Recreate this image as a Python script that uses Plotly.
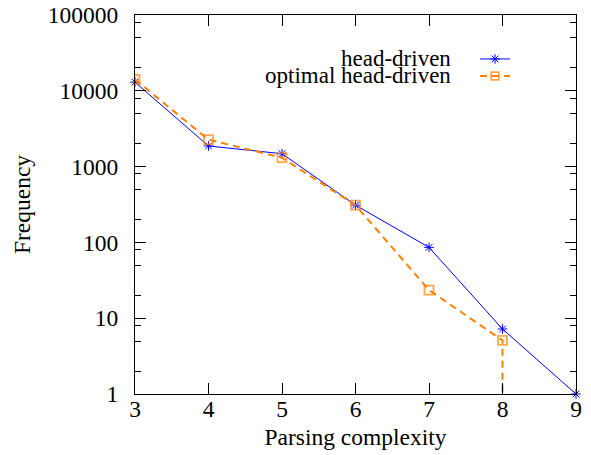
import plotly.graph_objects as go

complexity = [3, 4, 5, 6, 7, 8, 9]
head_driven = [13000, 1870, 1480, 310, 86, 7.2, 1]

opt_complexity = [3, 4, 5, 6, 7, 8]
optimal_head_driven = [14100, 2270, 1310, 310, 23.5, 5.1]

series_names = ["head-driven", "optimal head-driven"]

y_tick_vals = [1, 10, 100, 1000, 10000, 100000]
y_tick_text = ["1", "10", "100", "1000", "10000", "100000"]
x_tick_vals = [3, 4, 5, 6, 7, 8, 9]

minor_vals = [m * 10 ** d for d in range(0, 5) for m in (2, 5, 8)]

BLUE = "#0000ff"
ORANGE = "#ff8000"
FONT = "Liberation Serif"
FS = 23.5

# layout geometry in page pixels (body margin removed below)
L, T, PW, PH = 135, 15, 441, 379
W, H = 591, 455


def px_x(p):
    return (p - L) / PW


def px_y(p):
    return 1 - (p - T) / PH


text_row_y = [58, 75]
key_row_y = [59, 76]

fig = go.Figure()
fig.add_trace(go.Scatter(
    x=complexity, y=head_driven, name="", mode="lines+markers",
    line=dict(color=BLUE, width=1),
    marker=dict(symbol="asterisk-open", size=8, color=BLUE, line=dict(color=BLUE, width=1)),
    cliponaxis=False, legend="legend", hovertext=series_names[0],
))
# optimal series: after x=8 the count drops to zero (below the log axis)
fig.add_trace(go.Scatter(
    x=opt_complexity + [8], y=optimal_head_driven + [0.001], name="",
    mode="lines+markers",
    line=dict(color=ORANGE, width=2, dash="7px,5px"),
    marker=dict(symbol="square-open", size=[9] * 6 + [0], color=ORANGE,
                line=dict(color=ORANGE, width=1.8)),
    cliponaxis=True, legend="legend2", hovertext=series_names[1],
))

leg_common = dict(xanchor="left", yanchor="middle", bgcolor="rgba(0,0,0,0)",
                  font=dict(size=23), itemwidth=30, borderwidth=0)

for i, name in enumerate(series_names):
    fig.add_annotation(
        x=px_x(453), y=px_y(text_row_y[i]), xref="paper", yref="paper",
        xanchor="right", yanchor="middle", text=name, showarrow=False,
        font=dict(family=FONT, size=23, color="black"),
    )

fig.update_layout(
    width=W, height=H,
    margin=dict(l=L, r=W - L - PW, t=T, b=H - T - PH),
    paper_bgcolor="white", plot_bgcolor="white",
    font=dict(family=FONT, size=FS, color="black"),
    showlegend=True,
    legend=dict(x=px_x(475), y=px_y(key_row_y[0]), **leg_common),
    legend2=dict(x=px_x(475), y=px_y(key_row_y[1]), **leg_common),
    xaxis=dict(
        range=[3, 9], tickvals=x_tick_vals, ticks="inside", ticklen=11,
        tickcolor="black", mirror="ticks", showline=True, linecolor="black",
        linewidth=1, showgrid=False, zeroline=False, automargin=False,
        ticklabelstandoff=-6, ticklabeloverflow="allow",
        title=dict(text="Parsing complexity", standoff=7, font=dict(size=FS)),
        tickfont=dict(size=FS),
    ),
    yaxis=dict(
        type="log", range=[0, 5], tickvals=y_tick_vals, ticktext=y_tick_text,
        ticks="inside", ticklen=11, tickcolor="black", mirror="ticks",
        showline=True, linecolor="black", linewidth=1, showgrid=False,
        zeroline=False, automargin=False, ticklabelstandoff=11,
        ticklabeloverflow="allow",
        minor=dict(tickvals=minor_vals, ticks="inside", ticklen=6, tickcolor="black"),
        title=dict(text="Frequency", standoff=10, font=dict(size=FS)),
        tickfont=dict(size=FS),
    ),
)

fig.write_html("out.html", config={"displayModeBar": False},
               post_script="document.body.style.margin='0px';")
